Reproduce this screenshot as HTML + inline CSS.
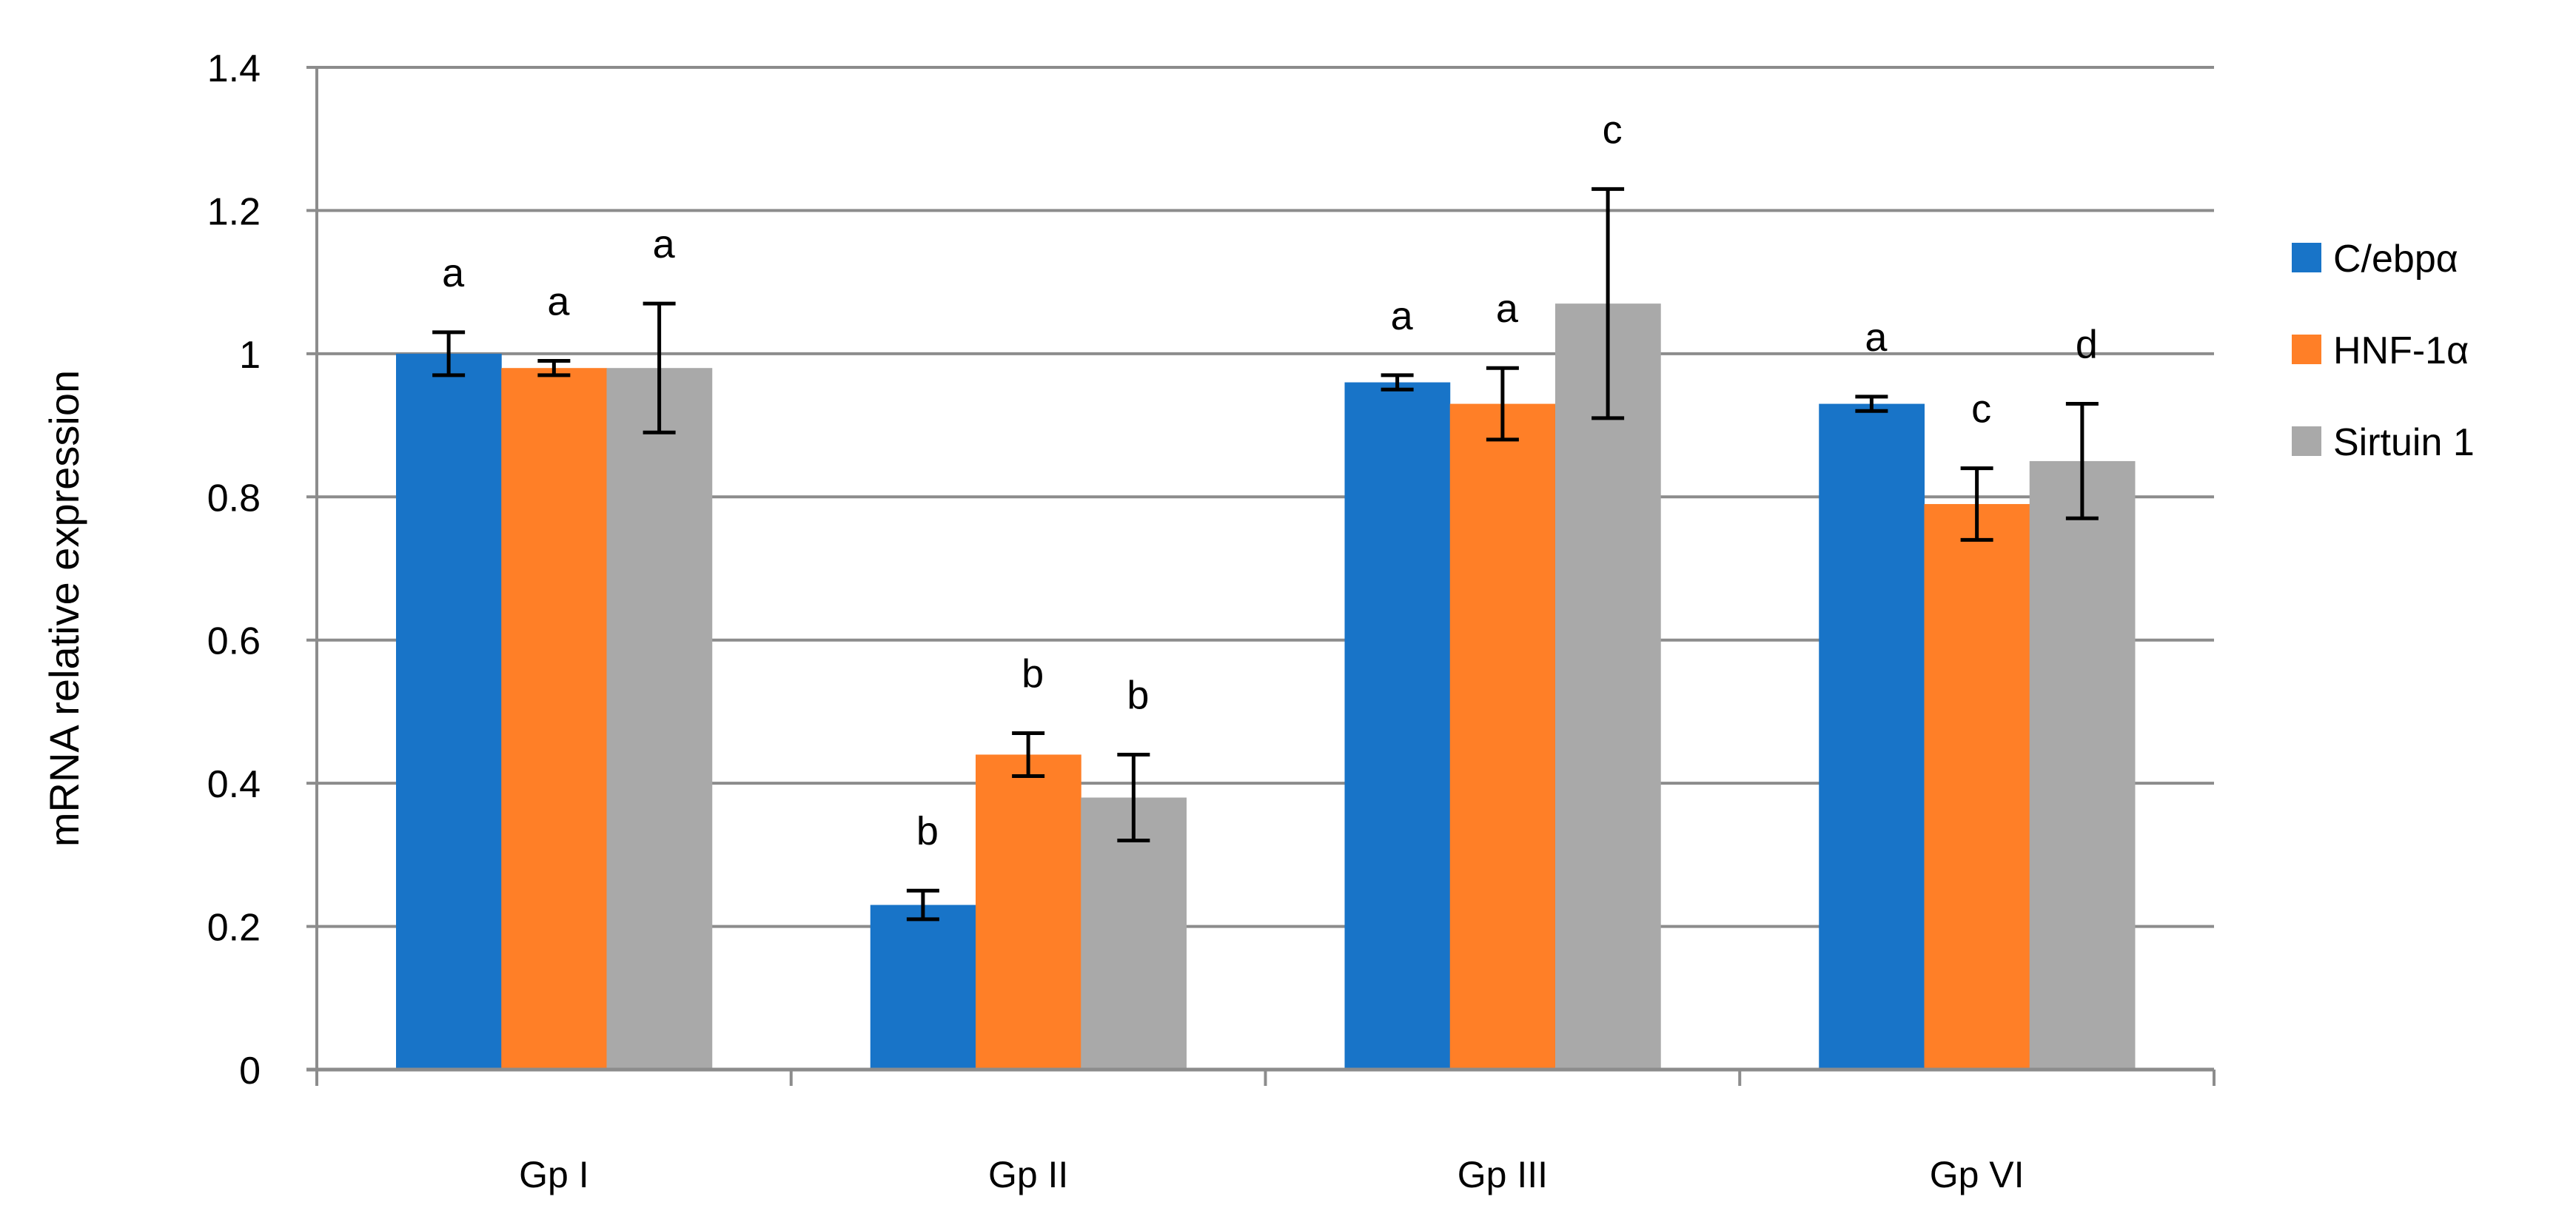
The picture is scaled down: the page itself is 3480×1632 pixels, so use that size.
<!DOCTYPE html>
<html><head><meta charset="utf-8"><style>
html,body{margin:0;padding:0;background:#fff;}
svg{display:block;font-family:"Liberation Sans",sans-serif;}
</style></head><body>
<svg id="chart" width="3480" height="1632" viewBox="0 0 3480 1632" xmlns="http://www.w3.org/2000/svg">
<g id="grid"></g>
<g id="bars"></g>
<g id="axes"></g>
<text x="0" y="0" transform="translate(106,822) rotate(-90)" text-anchor="middle" font-size="56" fill="#000">mRNA relative expression</text>
<g id="legend"></g>
</svg>
<script>
const categories = ["Gp I", "Gp II", "Gp III", "Gp VI"];
const seriesNames = ["C/ebpα", "HNF-1α", "Sirtuin 1"];
const cebpa = [1.0, 0.23, 0.96, 0.93];
const hnf1a = [0.98, 0.44, 0.93, 0.79];
const sirt1 = [0.98, 0.38, 1.07, 0.85];
const cebpaErr = [0.03, 0.02, 0.01, 0.01];
const hnf1aErr = [0.01, 0.03, 0.05, 0.05];
const sirt1Err = [0.09, 0.06, 0.16, 0.08];
const cebpaLetters = ["a", "b", "a", "a"];
const hnf1aLetters = ["a", "b", "a", "c"];
const sirt1Letters = ["a", "b", "c", "d"];
const yTicks = [0, 0.2, 0.4, 0.6, 0.8, 1, 1.2, 1.4];
const yTickLabels = ["0", "0.2", "0.4", "0.6", "0.8", "1", "1.2", "1.4"];

const NS = "http://www.w3.org/2000/svg";
const X0 = 428, X1 = 2991, Y0 = 1445, YTOP = 91, YMAX = 1.4;
const colors = ["#1874c8", "#ff7f27", "#a9a9a9"];
const series = [cebpa, hnf1a, sirt1];
const errs = [cebpaErr, hnf1aErr, sirt1Err];
const letters = [cebpaLetters, hnf1aLetters, sirt1Letters];
function y(v){ return Y0 - (v / YMAX) * (Y0 - YTOP); }
const catW = (X1 - X0) / categories.length;
const barW = catW * 0.222;
function xBar(ci, si){ return X0 + catW * ci + catW / 2 - 1.5 * barW + si * barW; }
function mk(tag, attrs, parent){ const e = document.createElementNS(NS, tag); for (const k in attrs) e.setAttribute(k, attrs[k]); parent.appendChild(e); return e; }

const grid = document.getElementById('grid');
yTicks.forEach((t, i) => {
  const l = mk('line', {x1: X0 - 14, x2: X1, y1: y(t), y2: y(t), stroke: '#8c8c8c', 'stroke-width': 4}, grid);
  
  
  const tx = mk('text', {x: 352, y: y(t) + 19, 'text-anchor': 'end', 'font-size': 52, fill: '#000'}, grid);
  tx.textContent = yTickLabels[i];
  
  
});

const bars = document.getElementById('bars');
categories.forEach((c, ci) => {
  series.forEach((s, si) => {
    const v = s[ci], e = errs[si][ci], bx = xBar(ci, si);
    const r = mk('rect', {x: bx, y: y(v), width: barW + 0.5, height: Y0 - y(v), fill: colors[si]}, bars);
    
    
    const cx = bx + barW / 2;
    const eb = mk('path', {d: `M${cx} ${y(v+e)}V${y(v-e)}M${cx-22} ${y(v+e)}H${cx+22}M${cx-22} ${y(v-e)}H${cx+22}`, stroke: '#000', 'stroke-width': 5, fill: 'none'}, bars);
    
    
    const lt = mk('text', {x: cx + 6, y: y(v + e) - 62, 'text-anchor': 'middle', 'font-size': 54, fill: '#000'}, bars);
    lt.textContent = letters[si][ci];
    
    
  });
});

const axes = document.getElementById('axes');
const ya = mk('line', {x1: X0, x2: X0, y1: YTOP, y2: Y0 + 22, stroke: '#8c8c8c', 'stroke-width': 4}, axes);


const xa = mk('line', {x1: X0 - 14, x2: X1, y1: Y0, y2: Y0, stroke: '#8c8c8c', 'stroke-width': 5}, axes);


for (let i = 0; i <= categories.length; i++) {
  const tk = mk('line', {x1: X0 + catW * i, x2: X0 + catW * i, y1: Y0, y2: Y0 + 22, stroke: '#8c8c8c', 'stroke-width': 4}, axes);
  
  
}
categories.forEach((c, ci) => {
  const t = mk('text', {x: X0 + catW * ci + catW / 2, y: 1604, 'text-anchor': 'middle', 'font-size': 50, fill: '#000'}, axes);
  t.textContent = c;
  
  
});

const legend = document.getElementById('legend');
seriesNames.forEach((n, i) => {
  const ly = 328 + i * 124;
  const sw = mk('rect', {x: 3096, y: ly, width: 40, height: 40, fill: colors[i]}, legend);
  
  
  const t = mk('text', {x: 3152, y: ly + 39, 'font-size': 52, fill: '#000'}, legend);
  t.textContent = n;
  
  
});
</script>
</body></html>
